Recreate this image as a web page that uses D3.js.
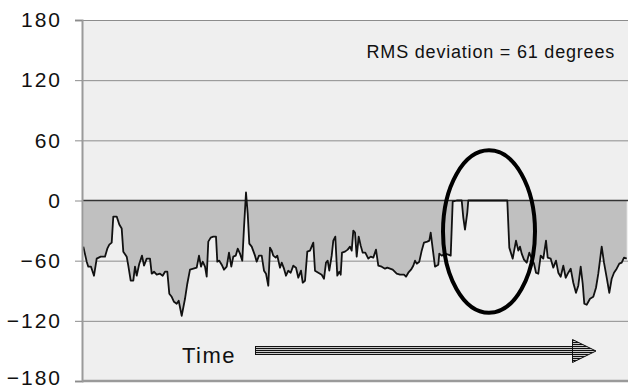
<!DOCTYPE html>
<html>
<head>
<meta charset="utf-8">
<script src="https://cdn.jsdelivr.net/npm/d3@7"></script>
<style>
  body { margin: 0; background: #fff; }
  svg { display: block; font-family: "Liberation Sans", Arial, sans-serif; }
</style>
</head>
<body>
<script>
// time samples (arbitrary units along the run) and heading error in degrees
var times = [1.3, 4.7, 6.3, 9, 12, 14.7, 18.7, 23, 25.3, 27.3, 29.7, 31.3, 34.7, 37.3, 39.7, 41.3, 44.7, 46.3, 48.7, 51.3,
  53, 54.7, 57.3, 60, 62, 64.7, 68, 69.7, 72, 74.7, 78, 80.7, 83, 85.3, 87.3, 89.7, 92, 94.7, 96.7, 99.7,
  103, 105.3, 108, 114.7, 117, 119, 120.7, 123, 124.7, 126.3, 128.7, 131.3, 134, 135.3, 137.3, 139.7, 142, 144.7, 147, 149.3,
  151.3, 153.7, 155.7, 158, 160.3, 162, 164, 165.7, 167.3, 169.7, 173, 174.7, 177, 179.7, 182, 184, 186.3, 188, 189.7, 191.3,
  193.7, 195.3, 198, 199.7, 202, 204, 206.3, 208.7, 211.3, 214, 216.3, 219, 220.7, 223, 225.3, 228, 231.3, 233, 236.3, 239.7,
  242, 244, 245.7, 247.3, 249.7, 251.3, 253.3, 255.3, 257.3, 258.7, 260, 263, 265.7, 268, 269.7, 271.3, 273, 274.7, 276.7, 278.7,
  280.7, 283.3, 286.3, 288.7, 291.3, 294, 296.3, 299.7, 303, 305.3, 308, 310.7, 314.7, 318, 322, 324, 326.3, 329, 331.3, 333,
  334.7, 337.3, 339.7, 342, 345.3, 347.3, 348.7, 350.7, 353, 356.3, 357.3, 359.7, 363, 366.3, 368.7, 370.7, 374.7, 379.7, 381.3, 383,
  385.3, 386.3, 425.3, 427.3, 430.7, 434, 436.3, 438, 439.7, 442, 444.7, 447.3, 449.7, 452, 454, 456.3, 458.7, 461.3, 464, 465.7,
  468.7, 471.3, 474, 476.3, 478.7, 481.3, 483.7, 486.3, 488.7, 491.3, 494, 496.3, 498.7, 500.7, 502.3, 504.7, 508, 511.3, 514, 516.3,
  519.7, 522, 524.7, 527.3, 529.7, 532, 534.7, 537.3, 539.7, 542, 544.7];
var angles = [-46, -61, -66, -66, -75, -58, -56, -56, -48, -44, -42, -16, -16, -24, -28, -51, -56, -65, -80, -80,
  -66, -75, -63, -55, -65, -58, -58, -73, -71, -74, -73, -75, -71, -71, -93, -96, -101, -103, -100, -115,
  -98, -83, -69, -67, -55, -66, -61, -66, -76, -41, -37, -36, -36, -61, -60, -64, -69, -66, -52, -66,
  -56, -55, -48, -53, -60, -27, 8, -13, -43, -46, -55, -61, -55, -55, -70, -73, -85, -47, -50, -55,
  -57, -55, -67, -62, -68, -75, -70, -72, -65, -67, -77, -70, -82, -80, -51, -50, -42, -70, -72, -74,
  -78, -62, -60, -70, -55, -40, -36, -75, -71, -74, -52, -51, -49, -46, -50, -30, -32, -56, -36, -45,
  -52, -52, -58, -56, -57, -49, -65, -66, -68, -67, -68, -69, -73, -74, -74, -76, -72, -69, -65, -60,
  -63, -61, -50, -42, -41, -40, -32, -48, -66, -64, -53, -55, -53, -54, -55, -1, 0, 0, -17, -29,
  -12, 0, 0, -47, -58, -40, -50, -46, -53, -59, -62, -52, -58, -63, -72, -73, -55, -58, -40, -57,
  -58, -67, -60, -72, -76, -65, -77, -72, -68, -82, -92, -85, -66, -83, -103, -104, -98, -96, -87, -73,
  -46, -62, -77, -92, -78, -72, -68, -63, -62, -57, -58];
var yTicks = [-180, -120, -60, 0, 60, 120, 180];
var rmsLabel = 'RMS deviation = 61 degrees';
var timeLabel = 'Time';

var WIDTH = 628;
var HEIGHT = 392;
var margin = {top: 20, left: 82, right: 0, bottom: 11};

var svg = d3.select('body')
  .append('svg')
  .attr('width', WIDTH)
  .attr('height', HEIGHT);

var x = d3.scaleLinear()
  .domain([0, 546])
  .range([margin.left, WIDTH - margin.right]);

var y = d3.scaleLinear()
  .domain([-180, 180])
  .range([HEIGHT - margin.bottom, margin.top]);

var data = times.map(function(t, i) { return {t: t, a: angles[i]}; });

// plot background
svg.append('rect')
  .attr('x', x(0))
  .attr('y', y(180))
  .attr('width', x(546) - x(0))
  .attr('height', y(-180) - y(180))
  .attr('fill', '#efefef');

// gridlines
svg.selectAll('line.grid')
  .data([120, 60, -60, -120, 180])
  .enter()
  .append('line')
  .attr('class', 'grid')
  .attr('x1', x(0))
  .attr('x2', x(546))
  .attr('y1', function(d) { return y(d) + 0.5; })
  .attr('y2', function(d) { return y(d) + 0.5; })
  .attr('stroke', '#8c8c8c')
  .attr('stroke-width', 1);

// shaded area between the curve and zero
var area = d3.area()
  .x(function(d) { return x(d.t); })
  .y0(y(0))
  .y1(function(d) { return y(d.a); });

svg.append('path')
  .datum(data)
  .attr('d', area)
  .attr('fill', '#c0c0c0');

// zero line
svg.append('line')
  .attr('x1', x(0))
  .attr('x2', x(546))
  .attr('y1', y(0))
  .attr('y2', y(0))
  .attr('stroke', '#333')
  .attr('stroke-width', 1.6);

var line = d3.line()
  .x(function(d) { return x(d.t); })
  .y(function(d) { return y(d.a); });

svg.append('path')
  .datum(data)
  .attr('d', line)
  .attr('fill', 'none')
  .attr('stroke', '#111')
  .attr('stroke-width', 1.8)
  .attr('stroke-linejoin', 'round');

// bottom border
svg.append('line')
  .attr('x1', x(0))
  .attr('x2', x(546))
  .attr('y1', y(-180))
  .attr('y2', y(-180))
  .attr('stroke', '#9a9a9a')
  .attr('stroke-width', 2.5);

// y axis
var yAxis = d3.axisLeft(y)
  .tickValues(yTicks)
  .tickSize(7)
  .tickPadding(13);

var gy = svg.append('g')
  .attr('transform', 'translate(' + x(0) + ',0)')
  .call(yAxis);

gy.select('.domain')
  .attr('stroke', '#9a9a9a')
  .attr('stroke-width', 2);
gy.selectAll('.tick line')
  .attr('stroke', '#8c8c8c');
gy.selectAll('.tick text')
  .attr('fill', '#111')
  .style('font-size', '21px')
  .style('letter-spacing', '2px')
  .style('font-family', '"Liberation Sans", Arial, sans-serif');
// keep the lowest label inside the window
gy.selectAll('.tick text')
  .filter(function(d) { return d === -180; })
  .attr('y', -3);

// annotation text
svg.append('text')
  .attr('x', 615)
  .attr('y', 58)
  .attr('text-anchor', 'end')
  .style('font-size', '18px')
  .style('letter-spacing', '0.8px')
  .attr('fill', '#111')
  .text(rmsLabel);

// circled section of the record
svg.append('ellipse')
  .attr('cx', x(407))
  .attr('cy', y(-31))
  .attr('rx', x(453) - x(407))
  .attr('ry', y(-31) - y(50))
  .attr('fill', 'none')
  .attr('stroke', '#000')
  .attr('stroke-width', 4);

// time arrow
var defs = svg.append('defs');
var pat = defs.append('pattern')
  .attr('id', 'stripes')
  .attr('patternUnits', 'userSpaceOnUse')
  .attr('width', 4)
  .attr('height', 2);
pat.append('rect').attr('width', 4).attr('height', 2).attr('fill', '#c8c8c8');
pat.append('rect').attr('width', 4).attr('height', 1).attr('fill', '#111');

svg.append('text')
  .attr('x', 182)
  .attr('y', 363)
  .style('font-size', '22px')
  .style('letter-spacing', '1.5px')
  .attr('fill', '#111')
  .text(timeLabel);

svg.append('rect')
  .attr('x', 255.5)
  .attr('y', 346.5)
  .attr('width', 318)
  .attr('height', 8)
  .attr('fill', 'url(#stripes)')
  .attr('stroke', '#111')
  .attr('stroke-width', 1);

svg.append('path')
  .attr('d', 'M572.5,339.5 L596,351 L572.5,362.5 Z')
  .attr('fill', 'url(#stripes)')
  .attr('stroke', '#111')
  .attr('stroke-width', 1);
</script>
</body>
</html>
